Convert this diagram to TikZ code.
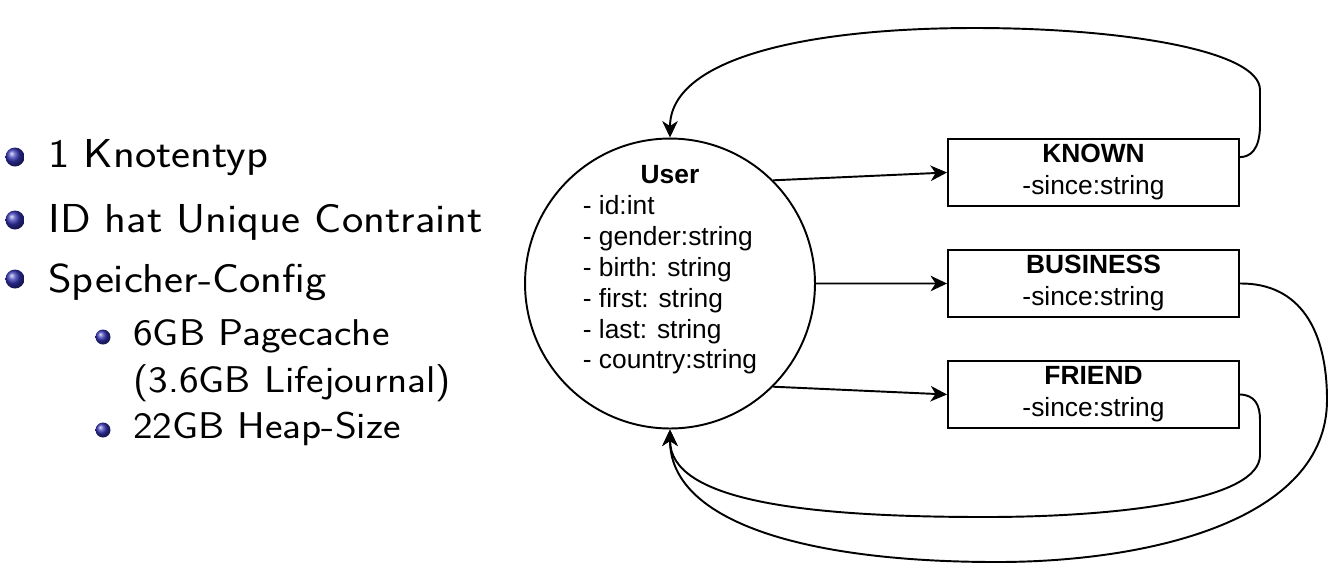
\documentclass[tikz,border=0pt]{standalone}
\usepackage{fontspec}
\usetikzlibrary{arrows.meta}
\newfontfamily\drawiofont{Liberation Sans}
\definecolor{beamerblue}{RGB}{51,51,178}
\newcommand{\wide}[1]{\scalebox{1.12}[1]{#1}}

\begin{document}
\begin{tikzpicture}[x=0.02cm, y=-0.02cm, node distance={22.2mm},
    ball/.style = {circle, shade, shading=ball, ball color=beamerblue, minimum size=3.8mm, inner sep=0pt},
    subball/.style = {ball, minimum size=3mm},
    item/.style = {anchor=base west, inner sep=0pt, font=\fontsize{23}{27}\selectfont\sffamily},
    subitem/.style = {item, font=\fontsize{21.2}{25}\selectfont\sffamily},
    rel/.style = {draw, line width=1.1pt, minimum width=58.2mm, minimum height=13.4mm, align=center, font=\fontsize{15}{18.2}\selectfont\drawiofont},
    edge/.style = {-{Stealth[length=3.3mm, width=3.1mm, inset=1mm]}, line width=1.1pt}]
    \useasboundingbox (0,0) rectangle (1341,583);
    % bullet list
    \node[ball] (b1) at (15,157) {};
    \node[item] (t1) at (48,167) {\wide{1 Knotentyp}};
    \node[ball] (b2) at (15,220) {};
    \node[item] (t2) at (48,232) {\wide{ID hat Unique Contraint}};
    \node[ball] (b3) at (15,279) {};
    \node[item] (t3) at (48,292) {\wide{Speicher-Config}};
    \node[subball] (b4) at (103,337) {};
    \node[subitem] (t4) at (133,345) {\wide{6GB Pagecache}};
    \node[subitem] (t4b) at (133,392) {\wide{(3.6GB Lifejournal)}};
    \node[subball] (b5) at (103,430) {};
    \node[subitem] (t5) at (133,438) {\wide{22GB Heap-Size}};
    % graph
    \node[draw, circle, line width=1.1pt, minimum size=58mm, inner sep=0pt] (user) at (670,283.5) {};
    \node[inner sep=0pt, font=\fontsize{15}{17.6}\selectfont\drawiofont] (attrs) at (670,270) {\begin{tabular}{@{}l@{}}
        \multicolumn{1}{@{}c@{}}{\textbf{User}}\\
        - id:int\\
        - gender:string\\
        - birth: string\\
        - first: string\\
        - last: string\\
        - country:string
    \end{tabular}};
    \node[rel] (known) at (1093.5,172.5) {\textbf{KNOWN}\\-since:string};
    \node[rel] (business) [below of=known] {\textbf{BUSINESS}\\-since:string};
    \node[rel] (friend) [below of=business] {\textbf{FRIEND}\\-since:string};
    \draw[edge] (user.45) -- (known.west);
    \draw[edge] (user.east) -- (business.west);
    \draw[edge] (user.-45) -- (friend.west);
    \draw[edge] (known.6) .. controls (1250,157) and (1260,150) .. (1260,125) -- (1260,90)
        .. controls (1260,50) and (1120,28) .. (975,28) .. controls (800,28) and (670,60) .. (user.north);
    \draw[edge] (business.east) .. controls (1300,283) and (1327,330) .. (1327,400)
        .. controls (1327,520) and (1150,562) .. (997,562) .. controls (800,562) and (670,520) .. (user.south);
    \draw[edge] (friend.east) .. controls (1255,395) and (1260,405) .. (1260,420) -- (1260,455)
        .. controls (1260,500) and (1120,517) .. (985,517) .. controls (800,517) and (670,500) .. (user.south);
\end{tikzpicture}
\end{document}
